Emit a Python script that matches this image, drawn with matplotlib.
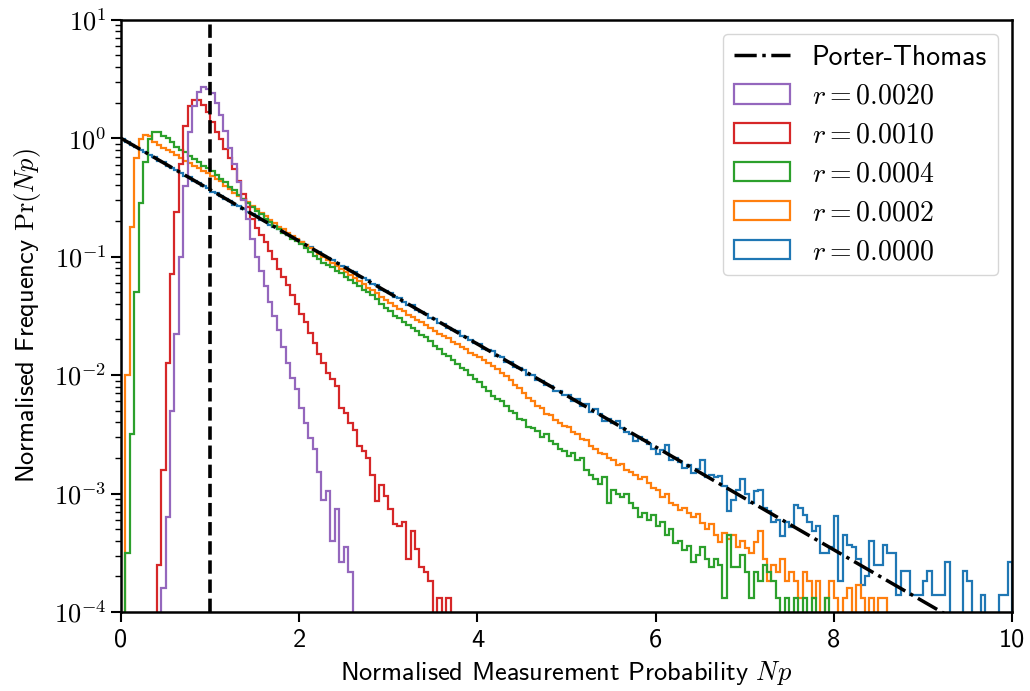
import numpy as np
import matplotlib
matplotlib.use("Agg")
import matplotlib.pyplot as plt
from matplotlib.ticker import FuncFormatter

plt.rcParams['font.family'] = 'cmss10'
plt.rcParams['mathtext.fontset'] = 'cm'
plt.rcParams['axes.unicode_minus'] = False

# histogram bin width in Np
bin_width = 0.05

# log10 of Pr(Np) per bin, starting at *_from; None = empty bin
r0020_from = 0.45
r0020 = [-3.80, -3.20, -2.30, -1.65, -1.00, -0.40, 0.05, 0.27, 0.39, 0.435,
         0.42, 0.38, 0.30, 0.20, 0.06, -0.08, -0.22, -0.37, -0.52, -0.68,
         -0.85, -1.00, -1.12, -1.25, -1.38, -1.50, -1.62, -1.76, -1.90, -2.02,
         -2.12, -2.28, -2.40, -2.53, -2.62, -2.82, -3.05, -2.98, -3.40, -3.13,
         -3.58, -3.45, -3.66]

r0010_from = 0.40
r0010 = [-3.60, -2.80, -1.90, -1.15, -0.62, -0.22, 0.10, 0.27, 0.32, 0.32,
         0.28, 0.22, 0.14, 0.05, -0.01, -0.09, -0.17, -0.26, -0.36, -0.47,
         -0.58, -0.68, -0.76, -0.82, -0.88, -0.95, -1.02, -1.10, -1.17, -1.24,
         -1.32, -1.40, -1.48, -1.55, -1.64, -1.73, -1.82, -1.90, -1.98, -2.03,
         -2.09, -2.28, -2.32, -2.40, -2.46, -2.60, -2.64, -2.70, -2.84, -3.06,
         -2.93, -3.02, -3.13, -3.26, -3.27, -3.24, -3.55, -3.32, -3.47, -3.62,
         -3.66, -3.74, None, -3.88, None, -3.88]

r0004_from = 0.05
r0004 = [-3.50, -2.50, -1.30, -0.55, -0.20, -0.01, 0.05, 0.055, 0.02, 0.00,
         -0.03, -0.07, -0.095, -0.12, -0.15, -0.175, -0.20, -0.23, -0.255, -0.28,
         -0.31, -0.34, -0.37, -0.41, -0.44, -0.48, -0.51, -0.55, -0.58, -0.61,
         -0.64, -0.68, -0.71, -0.74, -0.77, -0.80, -0.82, -0.85, -0.87, -0.89,
         -0.93, -0.96, -0.99, -1.02, -1.05, -1.07, -1.09, -1.12, -1.14, -1.17,
         -1.20, -1.22, -1.25, -1.28, -1.30, -1.32, -1.36, -1.40, -1.43, -1.46,
         -1.50, -1.52, -1.55, -1.58, -1.60, -1.63, -1.66, -1.68, -1.71, -1.75,
         -1.78, -1.82, -1.84, -1.87, -1.91, -1.94, -1.96, -2.00, -2.03, -2.06,
         -2.10, -2.13, -2.18, -2.20, -2.22, -2.26, -2.30, -2.32, -2.37, -2.38,
         -2.44, -2.45, -2.47, -2.52, -2.50, -2.56, -2.58, -2.62, -2.64, -2.68,
         -2.66, -2.72, -2.70, -2.80, -2.84, -2.88, -2.92, -2.86, -3.08, -2.97,
         -3.00, -3.03, -3.00, -3.08, -3.12, -3.20, -3.16, -3.22, -3.18, -3.27,
         -3.24, -3.35, -3.30, -3.42, -3.40, -3.48, -3.44, -3.58, -3.52, -3.45,
         -3.55, -3.62, -3.55, -3.60, -3.88, -3.35, -3.62, -3.62, -3.52, -3.66,
         -3.88, -3.66, -3.74, -3.60, -3.66, -3.74, -3.88, None, -3.88, None,
         -3.88, None, -3.88, None, -3.88, None, None, -3.88]

r0002_from = 0.05
r0002 = [-2.00, -0.75, -0.17, -0.01, 0.03, 0.015, -0.03, -0.055, -0.08, -0.10,
         -0.12, -0.145, -0.165, -0.19, -0.21, -0.235, -0.255, -0.275, -0.295, -0.32,
         -0.345, -0.365, -0.40, -0.43, -0.46, -0.49, -0.51, -0.54, -0.57, -0.60,
         -0.63, -0.66, -0.69, -0.715, -0.745, -0.77, -0.80, -0.825, -0.85, -0.875,
         -0.90, -0.925, -0.95, -0.98, -1.00, -1.03, -1.05, -1.08, -1.10, -1.13,
         -1.155, -1.18, -1.205, -1.23, -1.26, -1.285, -1.31, -1.34, -1.365, -1.39,
         -1.415, -1.44, -1.46, -1.49, -1.51, -1.535, -1.555, -1.58, -1.605, -1.625,
         -1.65, -1.67, -1.69, -1.72, -1.74, -1.76, -1.78, -1.81, -1.83, -1.85,
         -1.87, -1.90, -1.92, -1.95, -1.98, -2.01, -2.04, -2.08, -2.11, -2.15,
         -2.19, -2.22, -2.26, -2.28, -2.33, -2.34, -2.38, -2.40, -2.43, -2.44,
         -2.48, -2.50, -2.54, -2.55, -2.60, -2.62, -2.66, -2.67, -2.70, -2.72,
         -2.76, -2.75, -2.80, -2.82, -2.84, -2.88, -2.86, -2.91, -2.95, -2.97,
         -3.03, -3.00, -3.08, -3.10, -3.14, -3.12, -3.16, -3.20, -3.17, -3.25,
         -3.30, -3.26, -3.35, -3.41, -3.33, -3.38, -3.35, -3.45, -3.40, -3.46,
         -3.50, -3.41, -3.32, -3.55, -3.74, -3.60, -3.66, -3.55, -3.74, -3.66,
         -3.74, -3.88, -3.66, -3.74, -3.88, -3.74, None, -3.88, -3.74, -3.88,
         None, -3.88, -3.80, None, -3.77, -3.88, None, -3.88, None, -3.88,
         -3.88]

r0000_from = 0.0
r0000 = [-0.01, -0.03, -0.06, -0.07, -0.10, -0.12, -0.14, -0.16, -0.19, -0.20,
         -0.23, -0.25, -0.27, -0.29, -0.32, -0.33, -0.36, -0.38, -0.40, -0.42,
         -0.45, -0.46, -0.49, -0.51, -0.53, -0.56, -0.57, -0.60, -0.62, -0.64,
         -0.66, -0.69, -0.70, -0.73, -0.75, -0.77, -0.79, -0.82, -0.83, -0.86,
         -0.88, -0.90, -0.92, -0.95, -0.96, -0.99, -1.01, -1.03, -1.05, -1.08,
         -1.09, -1.12, -1.13, -1.17, -1.18, -1.20, -1.23, -1.24, -1.28, -1.29,
         -1.31, -1.34, -1.35, -1.38, -1.41, -1.41, -1.45, -1.47, -1.48, -1.52,
         -1.53, -1.56, -1.57, -1.60, -1.62, -1.63, -1.67, -1.68, -1.70, -1.73,
         -1.74, -1.78, -1.79, -1.80, -1.84, -1.85, -1.89, -1.89, -1.93, -1.94,
         -1.96, -2.00, -2.00, -2.04, -2.05, -2.08, -2.09, -2.13, -2.13, -2.17,
         -2.17, -2.22, -2.20, -2.26, -2.24, -2.31, -2.29, -2.33, -2.39, -2.37,
         -2.40, -2.39, -2.45, -2.48, -2.50, -2.56, -2.52, -2.55, -2.58, -2.62,
         -2.67, -2.63, -2.59, -2.72, -2.70, -2.73, -2.78, -2.76, -2.83, -2.79,
         -2.72, -2.86, -2.84, -2.86, -2.85, -2.94, -3.15, -3.05, -2.97, -2.88,
         -3.00, -3.08, -2.98, -2.97, -3.12, -3.15, -3.24, -3.22, -3.36, -3.24,
         -3.28, -3.10, -3.12, -3.18, -3.24, -3.32, -3.27, -3.50, -3.50, -3.45,
         -3.19, -3.74, -3.35, -3.43, -3.45, -3.55, -3.77, -3.70, -3.40, -3.60,
         -3.60, -3.43, -3.50, -3.50, -3.86, -3.65, -3.65, -3.86, -3.86, -3.86,
         -3.74, -3.65, -3.86, -3.86, -3.86, -3.58, None, None, None, -3.65,
         -3.74, None, None, -3.86, None, None, None, -3.86, -3.86, -3.58]

# Porter-Thomas Pr(Np) = exp(-Np), a straight line on the log axis
pt_x = [0.0, 10.0]
pt_y = [1.0, 4.54e-5]

series = [
    (r'$r = 0.0000$', r0000_from, r0000, 'tab:blue'),
    (r'$r = 0.0002$', r0002_from, r0002, 'tab:orange'),
    (r'$r = 0.0004$', r0004_from, r0004, 'tab:green'),
    (r'$r = 0.0010$', r0010_from, r0010, 'tab:red'),
    (r'$r = 0.0020$', r0020_from, r0020, 'tab:purple'),
]

fig = plt.figure(figsize=(10.3, 6.91), dpi=100)
ax = fig.add_axes([0.1175, 0.1143, 0.865, 0.857])

hist_handles = []
for label, start, logvals, colour in series:
    dens = np.array([0.0 if v is None else 10.0 ** v for v in logvals])
    edges = start + bin_width * np.arange(len(dens) + 1)
    centres = edges[:-1] + bin_width / 2
    _, _, patches = ax.hist(centres, bins=edges, weights=dens, histtype='step',
                            color=colour, lw=1.6, label=label, log=True)
    hist_handles.append(patches[0])

pt_line, = ax.plot(pt_x, pt_y, 'k-.', lw=2.5, label='Porter-Thomas')
ax.axvline(1.0, color='k', ls='--', lw=2.6)

ax.set_xlim(0, 10)
ax.set_ylim(1e-4, 1e1)
ax.set_xticks([0, 2, 4, 6, 8, 10])
# powers of ten in serif maths, like the rest of the equations
ax.yaxis.set_major_formatter(FuncFormatter(
    lambda v, pos: r'$10^{%d}$' % round(np.log10(v))))
ax.set_xlabel(r'Normalised Measurement Probability $Np$', fontsize=19,
              labelpad=5)
ax.set_ylabel(r'Normalised Frequency $\mathrm{Pr}(Np)$', fontsize=19,
              labelpad=8)
ax.tick_params(axis='both', which='major', labelsize=19, length=7, width=1.5)
ax.tick_params(axis='x', which='major', pad=5)
ax.tick_params(axis='y', which='minor', length=4, width=1)
for s in ax.spines.values():
    s.set_linewidth(1.8)

ax.legend([pt_line] + hist_handles[::-1],
          ['Porter-Thomas'] + [s[0] for s in series[::-1]],
          loc='upper right', fontsize=20)

fig.savefig('out.png', dpi=100)
